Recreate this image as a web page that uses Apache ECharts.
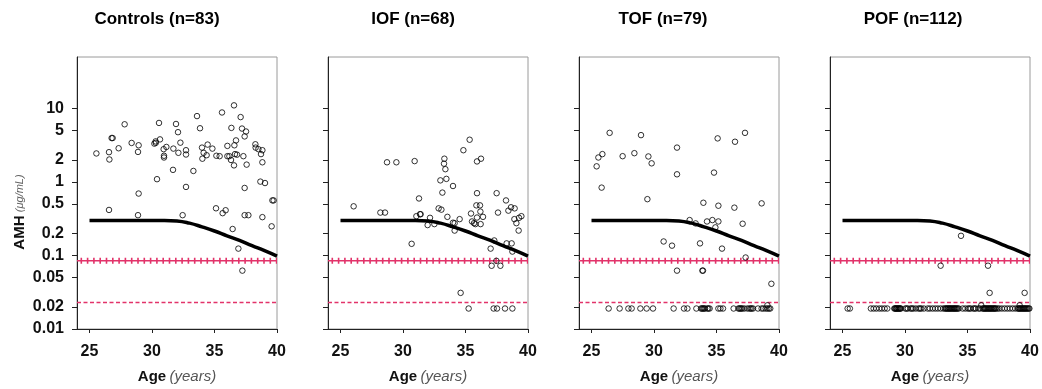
<!DOCTYPE html>
<html><head><meta charset="utf-8">
<script src="https://cdn.jsdelivr.net/npm/echarts@6/dist/echarts.min.js"></script>
<style>html,body{margin:0;padding:0;background:#fff}#c{width:1042px;height:389px}</style>
</head><body><div id="c"></div>
<script>
// ---------- data ----------
const panelTitles = ['Controls (n=83)', 'IOF (n=68)', 'TOF (n=79)', 'POF (n=112)'];
const xTickValues = [25, 30, 35, 40];
const yTickValues = [0.01, 0.02, 0.05, 0.1, 0.2, 0.5, 1, 2, 5, 10];
const yTickLabels = ['0.01', '0.02', '0.05', '0.1', '0.2', '0.5', '1', '2', '5', '10'];
const ageRange = [24, 40];
const amhRange = [0.01, 50];

// reference curve (same in every panel)
const curveAges   = [25, 26, 27, 28, 29, 30, 31, 32, 33, 34, 35, 36, 37, 38, 39, 40];
const curveValues = [0.30, 0.30, 0.30, 0.30, 0.30, 0.30, 0.30, 0.295, 0.275, 0.245, 0.215, 0.185, 0.16, 0.136, 0.116, 0.098];

// horizontal threshold lines
const crossLineAge = [24, 40];
const crossLineValue = [0.085, 0.085];
const dashLineAge = [24, 40];
const dashLineValue = [0.023, 0.023];

// [age, AMH] points
const controls = [[25.55,2.44],[26.56,2.54],[26.59,2.02],[26.77,3.95],[26.85,3.95],[27.33,2.87],[27.81,6.08],[28.37,3.39],[28.93,3.15],[28.88,2.56],[28.93,0.695],[26.56,0.416],[28.88,0.353],[30.19,3.32],[30.29,3.56],[30.64,3.79],[30.56,6.34],[30.4,1.09],[30.93,2.79],[31.15,2.99],[30.96,2.27],[30.96,2.15],[31.68,1.46],[31.71,2.84],[31.92,6.14],[32.08,4.75],[32.27,3.42],[32.11,2.49],[32.72,2.70],[32.72,2.36],[32.72,0.855],[32.45,0.353],[33.31,1.41],[33.6,7.86],[33.84,5.37],[34.0,2.93],[34.13,2.49],[34.03,2.07],[34.45,3.22],[34.37,2.31],[34.83,2.84],[35.15,2.27],[35.41,2.24],[35.6,8.8],[35.12,0.438],[35.65,0.376],[35.89,0.412],[36.03,2.24],[36.03,3.09],[36.19,2.24],[36.35,5.43],[36.32,1.99],[36.56,11.0],[36.59,3.15],[36.72,3.67],[36.64,2.39],[36.56,1.68],[36.45,0.229],[37.09,7.62],[37.2,5.32],[37.52,4.85],[37.41,4.16],[37.31,2.24],[37.57,1.72],[36.91,0.124],[37.41,0.828],[37.41,0.353],[37.71,0.353],[37.23,0.0622],[38.27,3.25],[38.29,2.93],[38.51,2.79],[38.72,2.39],[38.83,2.70],[38.83,1.85],[38.67,1.01],[39.04,0.966],[38.83,0.332],[39.63,0.561],[39.73,0.561],[39.57,0.249],[36.8,2.35],[30.3,3.4]];

const iof = [[26.05,0.466],[28.19,0.383],[28.56,0.383],[28.72,1.85],[29.47,1.85],[30.69,0.144],[30.93,1.92],[31.28,0.596],[31.07,0.342],[31.36,0.364],[31.41,0.364],[31.97,0.259],[32.16,0.325],[32.51,0.267],[32.99,1.05],[33.15,0.716],[33.31,2.07],[33.28,1.77],[33.39,1.49],[33.47,1.10],[32.85,0.437],[33.07,0.42],[33.55,0.335],[34.0,0.88],[34.0,0.279],[34.13,0.275],[34.13,0.218],[34.53,0.312],[34.61,0.031],[34.83,2.70],[35.33,3.75],[35.25,0.019],[35.92,1.90],[36.24,2.07],[35.92,0.703],[35.87,0.48],[36.16,0.48],[35.44,0.372],[35.92,0.328],[36.19,0.395],[36.4,0.335],[35.52,0.29],[35.68,0.275],[35.79,0.267],[36.21,0.267],[37.01,0.124],[37.09,0.0724],[37.47,0.0846],[37.79,0.0724],[37.49,0.703],[37.6,0.383],[37.25,0.019],[37.52,0.019],[38.16,0.019],[38.75,0.019],[38.24,0.56],[38.43,0.407],[38.64,0.452],[38.93,0.437],[38.91,0.312],[39.07,0.275],[39.25,0.218],[39.28,0.325],[39.47,0.342],[38.29,0.146],[38.69,0.146],[38.75,0.113],[37.3,0.16]];

const tof = [[25.41,1.63],[25.55,2.15],[25.87,2.39],[25.81,0.837],[26.45,4.65],[27.49,2.24],[28.43,2.46],[28.96,4.33],[29.55,2.22],[29.81,1.79],[29.47,0.583],[30.77,0.155],[31.44,0.136],[31.84,2.93],[31.84,1.27],[31.84,0.0622],[32.85,0.303],[33.33,0.273],[33.68,0.146],[33.87,0.0622],[33.92,0.0622],[33.95,0.521],[34.24,0.29],[34.67,0.303],[34.91,0.241],[34.8,1.34],[35.09,3.91],[35.15,0.475],[35.15,0.29],[35.44,0.124],[36.43,0.447],[36.48,3.52],[37.09,0.27],[37.28,4.65],[37.33,0.0938],[38.61,0.511],[39.39,0.0412],[39.07,0.021],
[26.37,0.019],[27.25,0.019],[27.95,0.019],[28.21,0.019],[28.91,0.019],[29.41,0.019],[29.92,0.019],[31.57,0.019],[32.4,0.019],[32.67,0.019],[33.39,0.019],[33.76,0.019],[33.84,0.019],[33.92,0.019],[34.0,0.019],[34.08,0.019],[34.27,0.019],[34.35,0.019],[34.45,0.019],[35.15,0.019],[35.31,0.019],[35.52,0.019],[36.37,0.019],[36.75,0.019],[36.83,0.019],[36.91,0.019],[36.99,0.019],[37.07,0.019],[37.23,0.019],[37.47,0.019],[37.63,0.019],[37.73,0.019],[37.81,0.019],[37.92,0.019],[38.32,0.019],[38.61,0.019],[38.75,0.019],[38.93,0.019],[39.07,0.019],[39.2,0.019],[39.3,0.019]];

const pof = [[34.48,0.185],[32.85,0.0726],[36.64,0.0726],[36.77,0.031],[39.57,0.031],[36.1,0.021],[39.17,0.021],
[25.41,0.019],[25.59,0.019],[27.27,0.019],[27.49,0.019],[27.7,0.019],[27.94,0.019],[28.15,0.019],[28.37,0.019],[28.58,0.019],
[29.14,0.019],[29.2,0.019],[29.25,0.019],[29.3,0.019],[29.35,0.019],[29.4,0.019],[29.46,0.019],[29.51,0.019],[29.57,0.019],[29.62,0.019],[29.67,0.019],
[30.02,0.019],[30.12,0.019],[30.23,0.019],[30.45,0.019],[30.55,0.019],[30.66,0.019],[30.87,0.019],[31.09,0.019],[31.2,0.019],[31.3,0.019],[31.51,0.019],
[31.81,0.019],[31.99,0.019],[32.21,0.019],[32.42,0.019],[32.63,0.019],[32.85,0.019],[33.06,0.019],[33.2,0.019],
[33.27,0.019],[33.34,0.019],[33.41,0.019],[33.48,0.019],[33.54,0.019],[33.6,0.019],[33.67,0.019],[33.74,0.019],[33.81,0.019],[33.88,0.019],[33.94,0.019],[34.0,0.019],[34.07,0.019],[34.14,0.019],[34.21,0.019],[34.3,0.019],
[34.61,0.019],[34.82,0.019],[35.03,0.019],[35.14,0.019],[35.25,0.019],[35.46,0.019],[35.57,0.019],[35.67,0.019],[35.89,0.019],[36.0,0.019],
[36.21,0.019],[36.28,0.019],[36.34,0.019],[36.41,0.019],[36.47,0.019],[36.54,0.019],[36.61,0.019],[36.68,0.019],[36.74,0.019],[36.81,0.019],[36.87,0.019],[36.94,0.019],[37.01,0.019],[37.08,0.019],[37.14,0.019],[37.21,0.019],[37.27,0.019],[37.4,0.019],
[37.54,0.019],[37.75,0.019],[37.97,0.019],[38.18,0.019],[38.39,0.019],[38.61,0.019],[38.82,0.019],
[39.01,0.019],[39.08,0.019],[39.14,0.019],[39.2,0.019],[39.27,0.019],[39.34,0.019],[39.41,0.019],[39.47,0.019],[39.54,0.019],[39.6,0.019],[39.67,0.019],[39.74,0.019],[39.81,0.019],[39.89,0.019],[39.95,0.019]];

const panels = [controls, iof, tof, pof];

// ---------- layout / style ----------
const gridLefts = [77, 328, 579, 830];
const titleCenters = [157, 413, 663, 913];
const RED = '#e2336a';
const FONT = "'Liberation Sans', Arial, Helvetica, sans-serif";
const lg = v => Math.log10(v);
const labelFor = v => {
  let best = 0, d = Infinity;
  yTickValues.forEach((t, k) => { const dd = Math.abs(lg(t) - v); if (dd < d) { d = dd; best = k; } });
  return yTickLabels[best];
};

const grid = [], xAxis = [], yAxis = [], series = [], title = [];
panels.forEach((pts, i) => {
  grid.push({left: gridLefts[i], top: 57, width: 200, height: 276, show: true, borderColor: '#9a9a9a', borderWidth: 1, containLabel: false});
  title.push({text: panelTitles[i], left: titleCenters[i], top: 11, textAlign: 'center', padding: 0,
    textStyle: {fontFamily: FONT, fontSize: 17, fontWeight: 'bold', color: '#000'}});
  xAxis.push({
    type: 'value', gridIndex: i, min: ageRange[0], max: ageRange[1], position: 'bottom',
    axisLine: {show: true, onZero: false, lineStyle: {color: '#222', width: 1}},
    axisTick: {show: true, customValues: xTickValues, length: 4, lineStyle: {color: '#222'}},
    axisLabel: {customValues: xTickValues, fontFamily: FONT, fontSize: 16, fontWeight: 'bold', color: '#111', margin: 15},
    splitLine: {show: false},
    name: '{b|Age} {i|(years)}', nameLocation: 'middle', nameGap: 40,
    nameTextStyle: {rich: {
      b: {fontFamily: FONT, fontSize: 15, fontWeight: 'bold', color: '#111'},
      i: {fontFamily: FONT, fontSize: 15, fontStyle: 'italic', color: '#555'}
    }}
  });
  yAxis.push({
    type: 'value', gridIndex: i, min: lg(amhRange[0]), max: lg(amhRange[1]), position: 'left',
    axisLine: {show: true, onZero: false, lineStyle: {color: '#222', width: 1}},
    axisTick: {show: true, customValues: yTickValues.map(lg), length: 5, lineStyle: {color: '#222'}},
    axisLabel: {show: i === 0, customValues: yTickValues.map(lg), formatter: labelFor,
      fontFamily: FONT, fontSize: 16, fontWeight: 'bold', color: '#111', margin: 13},
    splitLine: {show: false},
    name: i === 0 ? '{b|AMH} {i|(μg/mL)}' : '', nameLocation: 'middle', nameGap: 50, nameRotate: 90,
    nameTextStyle: {padding: [0, 38, 0, 0], rich: {
      b: {fontFamily: FONT, fontSize: 15, fontWeight: 'bold', color: '#111'},
      i: {fontFamily: FONT, fontSize: 11, fontStyle: 'italic', color: '#666'}
    }}
  });
  const xi = i, yi = i;
  series.push({type: 'line', xAxisIndex: xi, yAxisIndex: yi, silent: true, symbol: 'none', z: 2,
    data: crossLineAge.map((a, k) => [a, lg(crossLineValue[k])]), lineStyle: {color: RED, width: 1.5}});
  series.push({type: 'line', xAxisIndex: xi, yAxisIndex: yi, silent: true, symbol: 'none', z: 2,
    data: crossLineAge.map((a, k) => [a, lg(crossLineValue[k])]),
    lineStyle: {color: RED, width: 6, type: [1.6, 4.7], dashOffset: -3.5, cap: 'butt'}});
  series.push({type: 'line', xAxisIndex: xi, yAxisIndex: yi, silent: true, symbol: 'none', z: 2,
    data: dashLineAge.map((a, k) => [a, lg(dashLineValue[k])]), lineStyle: {color: RED, width: 1.5, type: [4, 2.5]}});
  series.push({type: 'line', xAxisIndex: xi, yAxisIndex: yi, silent: true, symbol: 'none', z: 4, smooth: 0.5,
    data: curveAges.map((a, k) => [a, lg(curveValues[k])]), lineStyle: {color: '#000', width: 3.5}});
  series.push({type: 'scatter', xAxisIndex: xi, yAxisIndex: yi, silent: true, symbol: 'circle', symbolSize: 5.5, z: 3,
    data: pts.map(p => [p[0], lg(p[1])]),
    itemStyle: {color: 'rgba(255,255,255,0)', borderColor: '#000', borderWidth: 1}});
});

const chart = echarts.init(document.getElementById('c'), null, {renderer: 'canvas'});
chart.setOption({animation: false, backgroundColor: '#fff', title, grid, xAxis, yAxis, series});
</script>
</body></html>
